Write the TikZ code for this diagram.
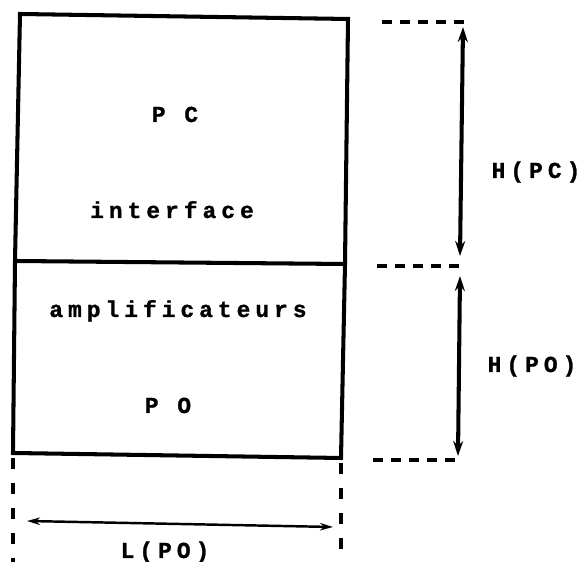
\documentclass[tikz,border=0pt]{standalone}
\usepackage{fontspec}
\usepackage{tikz}
\usetikzlibrary{arrows.meta}
\newfontfamily\labelfont[LetterSpace=22,BoldFeatures={FakeBold=1.2}]{Liberation Mono}

\begin{document}
\begin{tikzpicture}[thick,>={Stealth[length=0.3cm,width=0.2cm]},
    boxline/.style={line width=2.3pt, line join=miter},
    guide/.style={line width=1.8pt, dash pattern=on 0.2cm off 0.16cm},
    sideguide/.style={line width=2.2pt, dash pattern=on 0.22cm off 0.28cm},
    dimarrow/.style={line width=2.3pt, <->},
    lenarrow/.style={line width=1.4pt, <->, >={Stealth[length=0.26cm,width=0.15cm]}},
    lbl/.style={anchor=base, inner sep=0pt, font=\labelfont\bfseries\fontsize{13}{15}\selectfont}]

    \useasboundingbox (0,0) rectangle (11.66,11.24);

    % --- Corners of the two stacked blocks ---
    \coordinate (tl) at (0.40,10.96);
    \coordinate (tr) at (6.96,10.86);
    \coordinate (ml) at (0.30,6.02);
    \coordinate (mr) at (6.90,5.96);
    \coordinate (bl) at (0.26,2.18);
    \coordinate (br) at (6.82,2.08);

    % --- Outline of PC (top) and PO (bottom) ---
    \draw[boxline] (tl) -- (tr) -- (mr) -- (br) -- (bl) -- (ml) -- cycle;
    \draw[boxline] (ml) -- (mr);

    % --- Block texts ---
    \node[lbl] (pc)    at (3.50,8.80) {P C};
    \node[lbl] (inter) at (3.44,6.88) {interface};
    \node[lbl] (ampli) at (3.56,4.90) {amplificateurs};
    \node[lbl] (po)    at (3.36,2.98) {P O};

    % --- Height guides on the right ---
    \coordinate (gt1) at (7.64,10.80);
    \coordinate (gt2) at (9.40,10.80);
    \coordinate (gm1) at (7.54,5.92);
    \coordinate (gm2) at (9.30,5.92);
    \coordinate (gb1) at (7.46,2.04);
    \coordinate (gb2) at (9.24,2.04);
    \draw[guide] (gt1) -- (gt2);
    \draw[guide] (gm1) -- (gm2);
    \draw[guide] (gb1) -- (gb2);

    % H(PC) and H(PO)
    \coordinate (hpcT) at (9.26,10.70);
    \coordinate (hpcB) at (9.20,6.12);
    \coordinate (hpoT) at (9.20,5.72);
    \coordinate (hpoB) at (9.16,2.12);
    \draw[dimarrow] (hpcT) -- (hpcB);
    \draw[dimarrow] (hpoT) -- (hpoB);
    \node[lbl] (hpc) at (10.72,7.68) {H(PC)};
    \node[lbl] (hpo) at (10.64,3.80) {H(PO)};

    % --- Width guides below ---
    \coordinate (vl) at (0.26,0);
    \coordinate (vr) at (6.82,0);
    \draw[sideguide] (bl) ++(0,-0.1) -- (vl);
    \draw[sideguide] (br) ++(0,-0.1) -- (vr);

    % L(PO)
    \coordinate (lpoL) at (0.54,0.82);
    \coordinate (lpoR) at (6.66,0.70);
    \draw[lenarrow] (lpoL) -- (lpoR);
    \node[lbl] (lpo) at (3.30,0.08) {L(PO)};

\end{tikzpicture}
\end{document}
